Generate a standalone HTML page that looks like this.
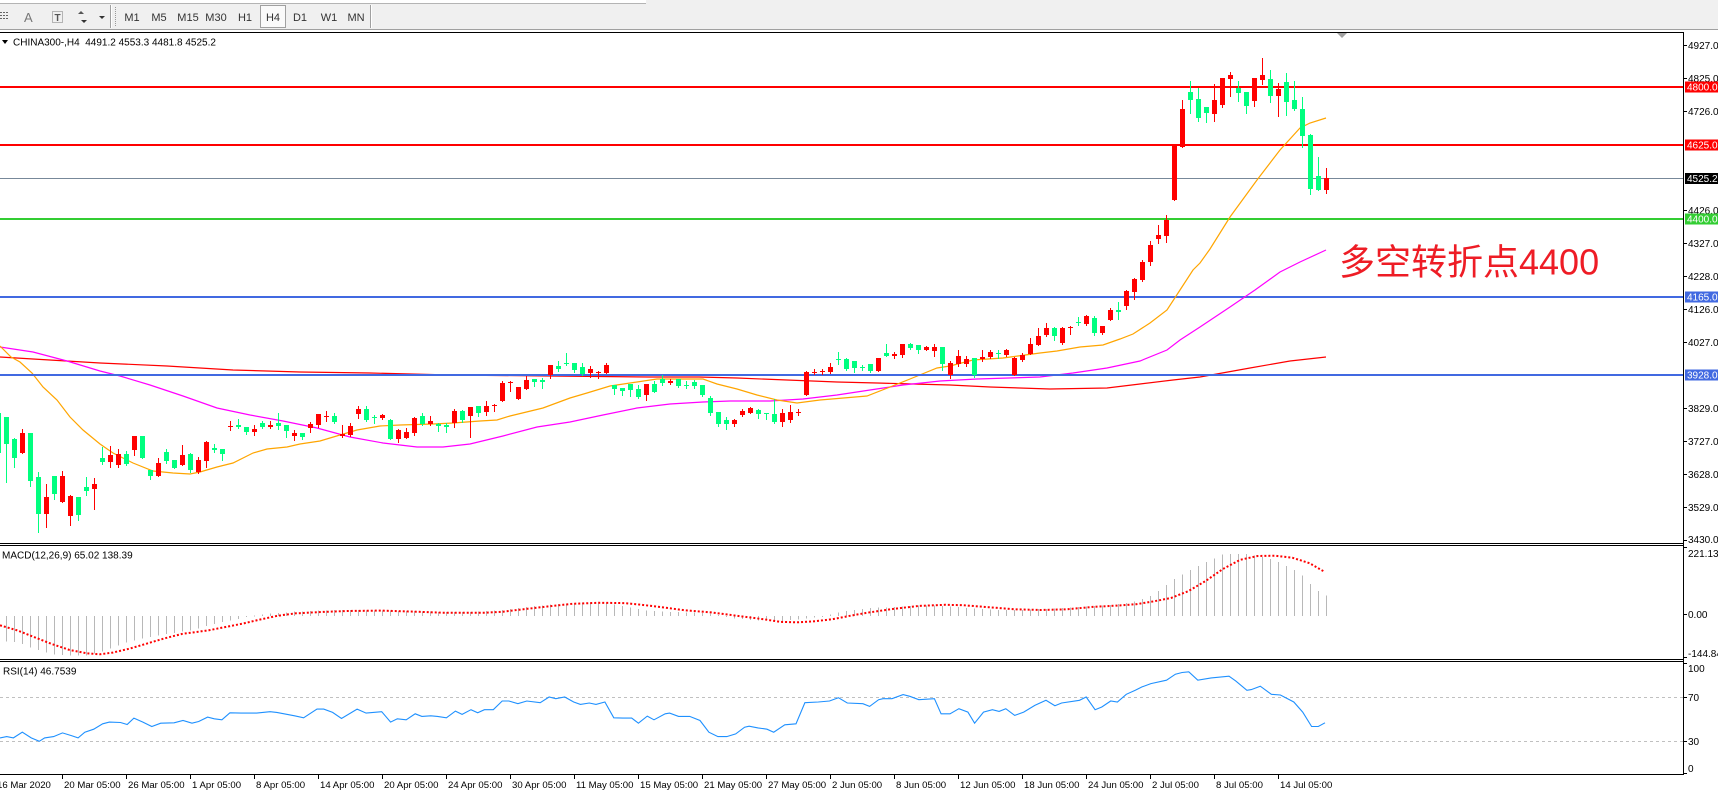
<!DOCTYPE html>
<html><head><meta charset="utf-8">
<style>
html,body{margin:0;padding:0;background:#fff;width:1718px;height:793px;overflow:hidden;}
svg{display:block;}
text{font-family:"Liberation Sans","DejaVu Sans",sans-serif;}
.ax{font-size:10px;fill:#000;}
.bx{font-size:10px;fill:#fff;}
.tb{font-size:11px;fill:#333;text-anchor:middle;}
.xl{font-size:9.6px;fill:#000;}
</style></head><body>
<svg id="s" width="1718" height="793" viewBox="0 0 1718 793" xmlns="http://www.w3.org/2000/svg">
<defs><clipPath id="cm"><rect x="0" y="33" width="1683" height="510"/></clipPath>
<clipPath id="cmacd"><rect x="0" y="546" width="1683" height="113"/></clipPath>
<clipPath id="crsi"><rect x="0" y="662" width="1683" height="112"/></clipPath></defs>
<rect width="1718" height="793" fill="#fff"/>
<!-- toolbar -->
<rect x="0" y="0" width="1718" height="30" fill="#f0f0f0"/>
<rect x="0" y="0" width="646" height="3" fill="#fff"/>
<line x1="0" y1="3.5" x2="646" y2="3.5" stroke="#b4b4b4"/>
<line x1="0" y1="29.5" x2="1718" y2="29.5" stroke="#a0a0a0"/>
<g fill="#666" shape-rendering="crispEdges">
<rect x="0" y="12" width="2" height="1"/><rect x="3" y="12" width="2" height="1"/><rect x="6" y="12" width="2" height="1"/>
<rect x="0" y="15" width="2" height="1"/><rect x="3" y="15" width="2" height="1"/><rect x="6" y="15" width="2" height="1"/>
<rect x="0" y="18" width="2" height="1"/><rect x="3" y="18" width="2" height="1"/><rect x="6" y="18" width="2" height="1"/>
</g>
<text x="24" y="22" font-size="13" fill="#777">A</text>
<rect x="52.5" y="11.5" width="10" height="11" fill="none" stroke="#777" stroke-dasharray="1,1"/>
<text x="54.5" y="21" font-size="10" font-weight="bold" fill="#555">T</text>
<polygon points="78,14 81,11 84,14" fill="#555"/><polygon points="81,20 84,23 87,20" fill="#333"/>
<polygon points="99,16 105,16 102,19" fill="#333"/>
<line x1="110.5" y1="5" x2="110.5" y2="28" stroke="#a0a0a0"/><line x1="111.5" y1="5" x2="111.5" y2="28" stroke="#fff"/>
<line x1="115.5" y1="7" x2="115.5" y2="27" stroke="#999" stroke-dasharray="1,1"/>
<rect x="260.5" y="5.5" width="25" height="22" fill="#fafafa" stroke="#a0a0a0"/>
<text class="tb" x="132" y="21">M1</text>
<text class="tb" x="159" y="21">M5</text>
<text class="tb" x="188" y="21">M15</text>
<text class="tb" x="216" y="21">M30</text>
<text class="tb" x="245" y="21">H1</text>
<text class="tb" x="273" y="21">H4</text>
<text class="tb" x="300" y="21">D1</text>
<text class="tb" x="329" y="21">W1</text>
<text class="tb" x="356" y="21">MN</text>
<line x1="370.5" y1="5" x2="370.5" y2="28" stroke="#a0a0a0"/><line x1="371.5" y1="5" x2="371.5" y2="28" stroke="#fff"/>
<!-- frames -->
<g stroke="#000" shape-rendering="crispEdges">
<line x1="0" y1="32.5" x2="1684" y2="32.5"/>
<line x1="1683.5" y1="32" x2="1683.5" y2="775"/>
<line x1="0" y1="543.5" x2="1684" y2="543.5"/>
<line x1="0" y1="545.5" x2="1684" y2="545.5"/>
<line x1="0" y1="659.5" x2="1684" y2="659.5"/>
<line x1="0" y1="661.5" x2="1684" y2="661.5"/>
<line x1="0" y1="774.5" x2="1684" y2="774.5"/>
</g>
<polygon points="1337,33 1347,33 1342,38" fill="#a0a0a0"/>
<!-- horizontal levels -->
<g shape-rendering="crispEdges">
<rect x="0" y="86" width="1683" height="2" fill="#ff0000"/>
<rect x="0" y="144" width="1683" height="2" fill="#ff0000"/>
<rect x="0" y="178" width="1683" height="1" fill="#778899"/>
<rect x="0" y="218" width="1683" height="2" fill="#32cd32"/>
<rect x="0" y="296" width="1683" height="2" fill="#4169e1"/>
</g>
<g id="ma" clip-path="url(#cm)" fill="none" stroke-width="1.2"></g>
<rect x="0" y="374" width="1683" height="2" fill="#4169e1" shape-rendering="crispEdges"/>
<g id="cd" clip-path="url(#cm)" shape-rendering="crispEdges"></g>
<!-- title -->
<polygon points="2,40 8,40 5,44" fill="#000"/>
<text x="13" y="45.5" font-size="10" fill="#000">CHINA300-,H4&#160; 4491.2 4553.3 4481.8 4525.2</text>
<text x="1339" y="274.5" font-size="36" fill="#ee1c25" style="font-family:'Liberation Sans','Noto Sans CJK SC',sans-serif">多空转折点4400</text>
<!-- price axis -->
<g stroke="#000" shape-rendering="crispEdges">
<line x1="1684" y1="45.5" x2="1687" y2="45.5"/><line x1="1684" y1="78.5" x2="1687" y2="78.5"/>
<line x1="1684" y1="111.5" x2="1687" y2="111.5"/><line x1="1684" y1="210.5" x2="1687" y2="210.5"/>
<line x1="1684" y1="243.5" x2="1687" y2="243.5"/><line x1="1684" y1="276.5" x2="1687" y2="276.5"/>
<line x1="1684" y1="309.5" x2="1687" y2="309.5"/><line x1="1684" y1="342.5" x2="1687" y2="342.5"/>
<line x1="1684" y1="408.5" x2="1687" y2="408.5"/><line x1="1684" y1="441.5" x2="1687" y2="441.5"/>
<line x1="1684" y1="474.5" x2="1687" y2="474.5"/><line x1="1684" y1="507.5" x2="1687" y2="507.5"/>
<line x1="1684" y1="540.5" x2="1687" y2="540.5"/>
<line x1="1684" y1="547.5" x2="1687" y2="547.5"/><line x1="1684" y1="614.5" x2="1687" y2="614.5"/><line x1="1684" y1="657.5" x2="1687" y2="657.5"/>
<line x1="1684" y1="663.5" x2="1687" y2="663.5"/><line x1="1684" y1="697.5" x2="1687" y2="697.5"/><line x1="1684" y1="741.5" x2="1687" y2="741.5"/><line x1="1684" y1="773.5" x2="1687" y2="773.5"/>
</g>
<text class="ax" x="1688" y="49">4927.0</text>
<text class="ax" x="1688" y="82">4825.0</text>
<text class="ax" x="1688" y="115">4726.0</text>
<text class="ax" x="1688" y="214">4426.0</text>
<text class="ax" x="1688" y="247">4327.0</text>
<text class="ax" x="1688" y="280">4228.0</text>
<text class="ax" x="1688" y="313">4126.0</text>
<text class="ax" x="1688" y="346">4027.0</text>
<text class="ax" x="1688" y="412">3829.0</text>
<text class="ax" x="1688" y="445">3727.0</text>
<text class="ax" x="1688" y="478">3628.0</text>
<text class="ax" x="1688" y="511">3529.0</text>
<text class="ax" x="1688" y="543">3430.0</text>
<g shape-rendering="crispEdges">
<rect x="1685" y="81.5" width="33" height="11" fill="#ff0000"/>
<rect x="1685" y="139.5" width="33" height="11" fill="#ff0000"/>
<rect x="1685" y="173" width="33" height="11" fill="#000"/>
<rect x="1685" y="213.5" width="33" height="11" fill="#32cd32"/>
<rect x="1685" y="291.5" width="33" height="11" fill="#4169e1"/>
<rect x="1685" y="369.5" width="33" height="11" fill="#4169e1"/>
</g>
<text class="bx" x="1687" y="90.5">4800.0</text>
<text class="bx" x="1687" y="148.5">4625.0</text>
<text class="bx" x="1687" y="182">4525.2</text>
<text class="bx" x="1687" y="222.5">4400.0</text>
<text class="bx" x="1687" y="300.5">4165.0</text>
<text class="bx" x="1687" y="378.5">3928.0</text>
<!-- MACD -->
<text x="2" y="558.5" font-size="10" fill="#000">MACD(12,26,9) 65.02 138.39</text>
<g id="macd" clip-path="url(#cmacd)"></g>
<text class="ax" x="1688" y="557">221.13</text>
<text class="ax" x="1688" y="618">0.00</text>
<text class="ax" x="1688" y="657">-144.84</text>
<!-- RSI -->
<text x="3" y="674.5" font-size="10" fill="#000">RSI(14) 46.7539</text>
<line x1="0" y1="697.5" x2="1683" y2="697.5" stroke="#c0c0c0" stroke-dasharray="3,3"/>
<line x1="0" y1="741.5" x2="1683" y2="741.5" stroke="#c0c0c0" stroke-dasharray="3,3"/>
<g id="rsi" clip-path="url(#crsi)"></g>
<text class="ax" x="1688" y="672">100</text>
<text class="ax" x="1688" y="701">70</text>
<text class="ax" x="1688" y="745">30</text>
<text class="ax" x="1688" y="772">0</text>
<!-- time axis -->
<g stroke="#000" shape-rendering="crispEdges">
<line x1="62.5" y1="775" x2="62.5" y2="779"/><line x1="126.5" y1="775" x2="126.5" y2="779"/>
<line x1="190.5" y1="775" x2="190.5" y2="779"/><line x1="254.5" y1="775" x2="254.5" y2="779"/>
<line x1="318.5" y1="775" x2="318.5" y2="779"/><line x1="382.5" y1="775" x2="382.5" y2="779"/>
<line x1="446.5" y1="775" x2="446.5" y2="779"/><line x1="510.5" y1="775" x2="510.5" y2="779"/>
<line x1="574.5" y1="775" x2="574.5" y2="779"/><line x1="638.5" y1="775" x2="638.5" y2="779"/>
<line x1="702.5" y1="775" x2="702.5" y2="779"/><line x1="766.5" y1="775" x2="766.5" y2="779"/>
<line x1="830.5" y1="775" x2="830.5" y2="779"/><line x1="894.5" y1="775" x2="894.5" y2="779"/>
<line x1="958.5" y1="775" x2="958.5" y2="779"/><line x1="1022.5" y1="775" x2="1022.5" y2="779"/>
<line x1="1086.5" y1="775" x2="1086.5" y2="779"/><line x1="1150.5" y1="775" x2="1150.5" y2="779"/>
<line x1="1214.5" y1="775" x2="1214.5" y2="779"/><line x1="1278.5" y1="775" x2="1278.5" y2="779"/>
</g>
<text class="xl" x="-3" y="788">16 Mar 2020</text>
<text class="xl" x="64" y="788">20 Mar 05:00</text>
<text class="xl" x="128" y="788">26 Mar 05:00</text>
<text class="xl" x="192" y="788">1 Apr 05:00</text>
<text class="xl" x="256" y="788">8 Apr 05:00</text>
<text class="xl" x="320" y="788">14 Apr 05:00</text>
<text class="xl" x="384" y="788">20 Apr 05:00</text>
<text class="xl" x="448" y="788">24 Apr 05:00</text>
<text class="xl" x="512" y="788">30 Apr 05:00</text>
<text class="xl" x="576" y="788">11 May 05:00</text>
<text class="xl" x="640" y="788">15 May 05:00</text>
<text class="xl" x="704" y="788">21 May 05:00</text>
<text class="xl" x="768" y="788">27 May 05:00</text>
<text class="xl" x="832" y="788">2 Jun 05:00</text>
<text class="xl" x="896" y="788">8 Jun 05:00</text>
<text class="xl" x="960" y="788">12 Jun 05:00</text>
<text class="xl" x="1024" y="788">18 Jun 05:00</text>
<text class="xl" x="1088" y="788">24 Jun 05:00</text>
<text class="xl" x="1152" y="788">2 Jul 05:00</text>
<text class="xl" x="1216" y="788">8 Jul 05:00</text>
<text class="xl" x="1280" y="788">14 Jul 05:00</text>
</svg>
<script>
(function(){
var NS="http://www.w3.org/2000/svg";
function el(n,a,p){var e=document.createElementNS(NS,n);for(var k in a)e.setAttribute(k,a[k]);p.appendChild(e);return e;}
var A=[['g',370,370,490,490],['g',381,381,462,575],['g',443,446,503,530],['r',417,430,488,488],['g',430,430,573,587],['g',546,561,671,725],['r',582,621,671,710],['g',558,558,611,626],['r',543,558,635,635],['r',614,618,677,704],['g',621,621,674,689],['g',561,591,603,614],['r',564,582,596,656],['g',471,504,516,521],['r',467,495,516,530],['r',477,492,524,530],['g',483,492,521,524],['r',438,438,480,494],['g',438,438,503,503],['g',540,540,557,566],['r',504,519,557,557],['g',477,486,513,518],['g',510,510,533,533],['r',465,495,524,524],['g',488,491,539,545],['r',500,510,546,550],['r',453,456,512,530],['g',462,474,480,486],['g',477,477,491,509],['r',392,408,410,419],['g',387,405,411,413],['g',411,411,425,431],['r',405,416,425,434],['g',393,399,411,413],['r',393,405,411,414],['g',369,399,408,417],['g',405,405,422,441],['r',420,429,437,449],['g',429,429,441,446],['r',396,402,413,425],['r',372,372,405,411],['r',363,378,381,392],['g',369,378,396,399],['r',405,432,437,440],['r',399,408,434,437],['r',348,357,372,384],['g',348,357,390,393],['g',375,381,383,399],['r',372,375,384,387],['g',387,390,447,447],['r',417,420,447,456],['r',414,426,443,443],['r',381,384,429,435],['g',369,378,402,405],['r',378,393,402,405],['g',399,402,408,422],['g',399,404,411,426],['r',357,363,399,411],['g',360,363,390,396],['r',351,351,378,440],['g',348,348,369,378]];
var B=[['r',333,348,366,375],['r',341,345,348,362],['r',273,279,333,333],['r',273,276,278,303],['r',291,291,326,326],['r',258,270,297,297],['g',267,267,276,288],['g',264,270,276,294],['r',225,225,255,264],['g',213,228,237,242],['g',189,219,222,225],['g',219,219,240,246],['g',219,231,252,256],['r',228,237,249,261],['r',242,246,248,264],['r',219,225,248,249],['g',285,285,297,312],['g',294,294,302,315],['g',282,282,300,318],['g',285,297,322,324],['r',282,282,314,330],['g',273,282,305,305],['g',255,267,279,285],['r',267,273,279,282],['g',267,267,288,291],['g',273,285,288,294],['g',270,276,288,294],['g',285,285,315,318],['g',318,324,369,375],['g',366,366,402,408],['g',381,390,402,417],['r',387,390,402,408],['r',357,363,375,378],['r',351,354,369,369],['g',357,360,372,384],['g',369,369,372,387],['g',327,372,396,399],['r',357,369,396,408],['r',345,366,390,396],['r',357,366,368,375],['r',243,246,315,315],['r',237,245,248,252],['r',237,242,245,252],['r',219,231,246,249],['g',186,207,209,222],['g',204,207,237,240],['g',213,213,234,246],['g',225,231,233,240],['g',222,222,243,246],['r',204,204,243,243],['g',162,189,197,197],['r',186,191,197,203],['r',162,162,195,201],['g',159,162,174,177],['g',166,166,180,188],['r',168,171,180,180],['r',162,171,183,198],['g',171,171,222,240]];
var C=[['r',903,909,945,954],['r',870,888,912,918],['r',888,897,912,918],['g',894,894,945,951],['r',870,891,897,903],['r',870,876,891,894],['g',870,879,882,894],['r',867,870,885,888],['r',891,893,945,945],['r',879,885,900,903],['r',834,852,882,882],['r',804,828,855,855],['r',789,804,825,828],['g',801,804,828,840],['r',801,804,849,852],['r',798,801,804,822],['g',771,786,789,795],['r',765,768,792,795],['g',768,774,819,825],['r',798,798,819,822],['r',744,750,780,780],['g',726,750,756,777],['r',690,693,738,747],['r',654,657,696,717],['r',600,606,660,663],['r',543,555,606,615],['r',495,525,537,549],['r',465,480,528,546]];
var D=[['r',285,285,450,450],['r',150,177,290,290],['g',93,126,150,189],['g',114,147,204,213],['g',171,171,189,216],['r',102,150,192,213],['r',84,84,165,171],['r',66,75,87,138],['g',93,114,129,153],['g',126,126,168,189],['r',84,84,153,168],['r',24,75,90,102],['g',60,87,138,156],['r',99,117,138,198],['g',69,96,156,195],['g',93,150,177,180],['g',141,177,258,291],['g',252,255,417,432],['g',321,378,420,420],['r',354,384,420,429]];
var cd=document.getElementById('cd');
function draw(arr,start,oy){
 for(var k=0;k<arr.length;k++){
  var i=start+k,cx=8*i-10,d=arr[k],col=d[0]=='r'?'#ff0000':'#00ff7f';
  var wt=Math.round(oy+d[1]/3),bt=Math.round(oy+d[2]/3),bb=Math.round(oy+d[3]/3),wb=Math.round(oy+d[4]/3);
  el('rect',{x:cx,y:wt,width:1,height:Math.max(1,wb-wt+1),fill:col},cd);
  el('rect',{x:cx-2,y:bt,width:5,height:Math.max(1,bb-bt),fill:col},cd);
 }
}
draw(A,1,290);draw(B,62,290);draw(C,120,60);draw(D,148,50);
var ma=document.getElementById('ma');
function pl(s,c,p,extra){var a={points:s,stroke:c,fill:'none','stroke-width':1.2};for(var k in extra)a[k]=extra[k];el('polyline',a,p);}
pl("0,357 33,359 100,363 167,366 233,370 300,372 370,373 450,375 550,376 650,377 699,377 737,378 787,380 837,382 877,383 913,384 950,385 990,387 1050,389 1107,388 1140,384 1173,380 1200,377 1250,368 1290,361 1326,357","#ff0000",ma);
pl("0,347 33,352 67,361 100,371 120,376 150,385 183,396 217,408 250,415 283,421 317,428 350,437 383,443 417,447 443,447 470,444 503,436 537,427 570,422 603,415 637,408 670,404 703,402 730,401 770,401 803,399 837,395 870,390 903,385 940,381 977,379 1040,377 1073,373 1107,368 1140,361 1167,350 1180,340 1200,327 1230,307 1255,290 1280,272 1300,262 1326,250","#ff00ff",ma);
pl("0,346 11,357 20,362 32,373 43,387 57,400 70,417 83,430 100,444 113,453 133,463 153,471 173,473 190,474 200,472 217,467 233,463 253,453 267,449 287,447 300,444 320,441 340,435 357,430 380,426 400,425 433,424 453,423 480,421 497,420 510,416 543,408 570,398 587,393 610,386 637,382 657,379 703,379 717,384 737,389 757,395 777,400 797,403 820,400 867,396 890,387 910,379 937,368 950,366 973,360 1003,358 1040,353 1057,351 1080,347 1103,345 1120,339 1133,334 1150,323 1167,310 1180,290 1193,270 1200,263 1210,249 1230,217 1257,180 1280,150 1300,128 1310,123 1326,118","#ffa500",ma);
// MACD
var mg=document.getElementById('macd');
var H=[[0,295],[20,300],[40,320],[60,335],[80,338],[100,338],[120,325],[140,305],[160,290],[180,280],[200,272],[220,265],[240,250],[260,238],[280,228],[290,222],[310,215],[340,210],[360,207],[400,205],[450,207],[500,210],[540,212],[580,205],[600,198],[620,193],[650,186],[680,183],[700,185],[720,195],[740,205],[760,210],[790,212],[820,215],[840,228],[870,235],[900,237],[930,230],[950,222],[970,210],[1000,200],[1040,195],[1060,192],[1090,193],[1120,200],[1150,205],[1180,205],[1220,200],[1250,195],[1280,190],[1310,180],[1330,160],[1350,120],[1370,90],[1390,65],[1410,42],[1425,40],[1440,42],[1455,50],[1470,60],[1490,85],[1500,100],[1510,128],[1520,150],[1530,165]];
var HP=H.map(function(p){return [p[0]/1.153,540+p[1]/2.93];});
function interp(P,x){if(x<=P[0][0])return P[0][1];for(var k=1;k<P.length;k++){if(x<=P[k][0]){var a=P[k-1],b=P[k];return a[1]+(b[1]-a[1])*(x-a[0])/(b[0]-a[0]);}}return P[P.length-1][1];}
var z=615.8;
for(var i=1;i<=167;i++){var cx=8*i-10;var y=interp(HP,cx);el('rect',{x:cx,y:Math.min(y,z),width:1,height:Math.max(1,Math.abs(y-z)),fill:'#b8b8b8','shape-rendering':'crispEdges'},mg);}
var S=[[0,250],[20,265],[40,285],[60,305],[80,322],[100,332],[115,335],[130,330],[150,318],[170,303],[190,288],[210,275],[240,265],[260,255],[280,245],[300,233],[320,222],[340,215],[370,211],[400,208],[440,207],[480,210],[510,213],[560,213],[580,210],[600,204],[630,195],[660,187],[690,184],[720,185],[740,190],[760,196],[790,206],[820,212],[850,222],[880,232],[900,240],[920,241],[940,238],[960,232],[980,222],[1000,213],[1030,202],[1060,193],[1090,190],[1110,191],[1140,197],[1170,203],[1200,205],[1230,203],[1260,196],[1290,192],[1310,188],[1330,180],[1350,170],[1370,150],[1390,120],[1410,85],[1430,58],[1450,47],[1470,46],[1490,52],[1510,68],[1527,93]];
pl(S.map(function(p){return (p[0]/1.153).toFixed(1)+','+(540+p[1]/2.93).toFixed(1);}).join(' '),'#ff0000',mg,{'stroke-width':2,'stroke-dasharray':'2,2'});
// RSI
var R5=[[0,262],[15,258],[30,262],[50,245],[70,262],[88,272],[100,262],[120,258],[140,247],[160,255],[175,262],[190,245],[210,236],[230,220],[245,215],[270,216],[285,222],[300,203],[320,215],[340,228],[360,218],[390,217],[410,210],[430,218],[445,213],[465,200],[480,205],[497,208],[515,187],[540,188],[575,188],[605,184],[620,186],[660,196],[680,202],[710,176],[725,176],[745,186],[765,204],[800,176],[820,188],[855,184],[875,215],[890,205],[910,208],[930,190],[945,198],[965,196],[980,198],[1000,202],[1020,182],[1035,192],[1055,178],[1070,187],[1085,178],[1105,178],[1125,152],[1140,152],[1160,160],[1180,152],[1210,157],[1230,140],[1245,145],[1265,140],[1285,155],[1300,162],[1320,158],[1335,162],[1355,155],[1375,202],[1395,203],[1415,203],[1430,218],[1450,197],[1465,208],[1490,190],[1500,188],[1520,198],[1545,198]];
var R6=[[0,210],[20,245],[40,258],[60,258],[80,250],[100,230],[110,227],[130,232],[150,236],[165,245],[190,223],[215,220],[235,157],[265,155],[290,152],[310,142],[330,158],[365,160],[380,168],[400,148],[410,145],[430,145],[455,133],[470,138],[490,148],[525,145],[540,190],[560,190],[580,175],[600,185],[615,218],[635,185],[655,178],[670,183],[685,175],[705,195],[725,185],[750,165],[775,150],[795,166],[810,158],[850,150],[865,140],[885,178],[900,170],[920,152],[935,155],[955,132],[975,120],[990,110],[1010,100],[1045,90],[1065,72],[1080,67],[1095,65],[1115,90],[1145,83],[1185,78],[1200,92],[1225,120],[1235,118],[1255,108],[1280,132],[1300,134],[1330,155],[1350,185],[1370,228],[1385,228],[1400,217]];
var pts=R5.map(function(p){return (p[0]/2.24).toFixed(1)+','+(650+p[1]/2.98).toFixed(1);}).concat(R6.map(function(p){return (700+p[0]/2.24).toFixed(1)+','+(650+p[1]/2.98).toFixed(1);}));
pl(pts.join(' '),'#1e90ff',document.getElementById('rsi'),{'stroke-width':1.1});
})();
</script>
</body></html>
